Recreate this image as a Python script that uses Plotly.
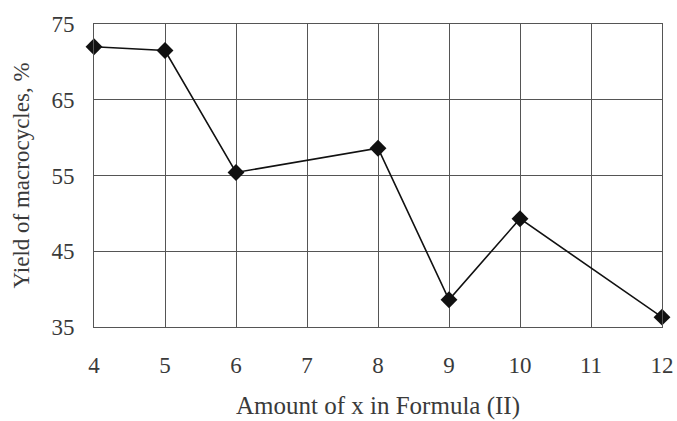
import plotly.graph_objects as go

x_vals = [4, 5, 6, 8, 9, 10, 12]
yield_vals = [72.0, 71.5, 55.4, 58.6, 38.6, 49.3, 36.3]
x_ticks = [4, 5, 6, 7, 8, 9, 10, 11, 12]
y_ticks = [35, 45, 55, 65, 75]

fig = go.Figure()
fig.add_trace(go.Scatter(
    x=x_vals, y=yield_vals, mode="lines+markers",
    line=dict(color="#111111", width=1.6),
    marker=dict(symbol="diamond", size=13, color="#111111"),
    cliponaxis=False, showlegend=False,
))

fam = "Liberation Serif, Times New Roman, serif"
txt = "#3a3a3a"
fig.update_layout(
    width=677, height=421,
    margin=dict(l=94, r=15, t=24, b=94),
    paper_bgcolor="white", plot_bgcolor="white",
    font=dict(family=fam, size=22, color=txt),
)
fig.update_xaxes(
    range=[4, 12], tickvals=x_ticks, ticktext=[str(t) for t in x_ticks],
    tickfont=dict(family=fam, size=23, color=txt),
    showgrid=True, gridcolor="#555555", gridwidth=1,
    zeroline=False, showline=True, linecolor="#555555", linewidth=1, mirror=True,
    ticks="", ticklabelstandoff=17, automargin=False,
    title=dict(text="Amount of x in Formula (II)", standoff=19,
               font=dict(family=fam, size=25, color=txt)),
)
fig.update_yaxes(
    range=[35, 75], tickvals=y_ticks,
    tickfont=dict(family=fam, size=23, color=txt),
    showgrid=True, gridcolor="#555555", gridwidth=1,
    zeroline=False, showline=True, linecolor="#555555", linewidth=1, mirror=True,
    ticks="", ticklabelstandoff=14, automargin=False,
    title=dict(text="Yield of macrocycles, %", standoff=15,
               font=dict(family=fam, size=23, color=txt)),
)
fig.write_html("out.html")
